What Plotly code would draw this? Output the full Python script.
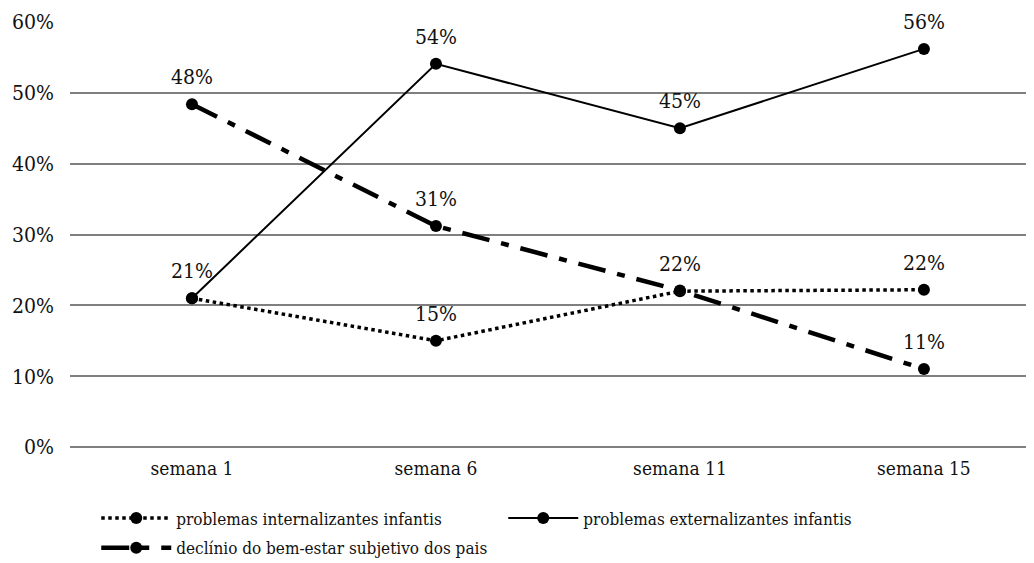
import plotly.graph_objects as go

categories = ["semana 1", "semana 6", "semana 11", "semana 15"]
internalizantes = [0.21, 0.15, 0.22, 0.222]
externalizantes = [0.21, 0.541, 0.45, 0.562]
declinio = [0.484, 0.312, 0.221, 0.11]
series_names = [
    "problemas internalizantes infantis",
    "problemas externalizantes infantis",
    "declínio do bem-estar subjetivo dos pais",
]
y_ticks = [0, 0.1, 0.2, 0.3, 0.4, 0.5, 0.6]
y_ticktext = ["0%", "10%", "20%", "30%", "40%", "50%", "60%"]

FONT = "DejaVu Serif Condensed, DejaVu Serif"
xs = list(range(len(categories)))

fig = go.Figure()
styles = [
    dict(width=3.5, dash="dot", legend="legend"),
    dict(width=2, dash="solid", legend="legend"),
    dict(width=4.5, dash="28px,12px,8px,12px", legend="legend2"),
]
for name, vals, st in zip(series_names, [internalizantes, externalizantes, declinio], styles):
    fig.add_trace(go.Scatter(
        x=xs, y=vals, name=name, mode="lines+markers",
        line=dict(color="black", width=st["width"], dash=st["dash"]),
        marker=dict(color="black", size=12),
        cliponaxis=False, legend=st["legend"],
    ))

seen = set()
for vals in [internalizantes, externalizantes, declinio]:
    for x, v in zip(xs, vals):
        key = (x, round(v * 100))
        if key in seen:
            continue
        seen.add(key)
        fig.add_annotation(x=x, y=v, text=f"{round(v*100)}%", showarrow=False,
                           yshift=27, font=dict(family=FONT, size=21, color="#111"))

legend_common = dict(
    orientation="h", xanchor="left", yanchor="middle",
    font=dict(size=17, family=FONT), itemwidth=70, bgcolor="rgba(0,0,0,0)",
)
fig.update_layout(
    width=1034, height=563,
    margin=dict(l=62, r=0, t=14, b=124),
    paper_bgcolor="white", plot_bgcolor="white",
    font=dict(family=FONT, color="#111"),
    xaxis=dict(
        range=[-0.5, 3.484], tickvals=xs, ticktext=categories,
        showgrid=False, zeroline=False, showline=False,
        tickfont=dict(size=19), ticks="", ticklabelstandoff=8,
    ),
    yaxis=dict(
        range=[0, 0.6], tickvals=y_ticks, ticktext=y_ticktext,
        showgrid=True, gridcolor="#7f7f7f", gridwidth=2,
        zeroline=True, zerolinecolor="#7f7f7f", zerolinewidth=2,
        showline=False, tickfont=dict(size=21), ticklabelstandoff=15,
    ),
    legend=dict(legend_common, x=0.027, y=-0.168, entrywidth=322),
    legend2=dict(legend_common, x=0.027, y=-0.238),
)

fig.write_html("out.html")
